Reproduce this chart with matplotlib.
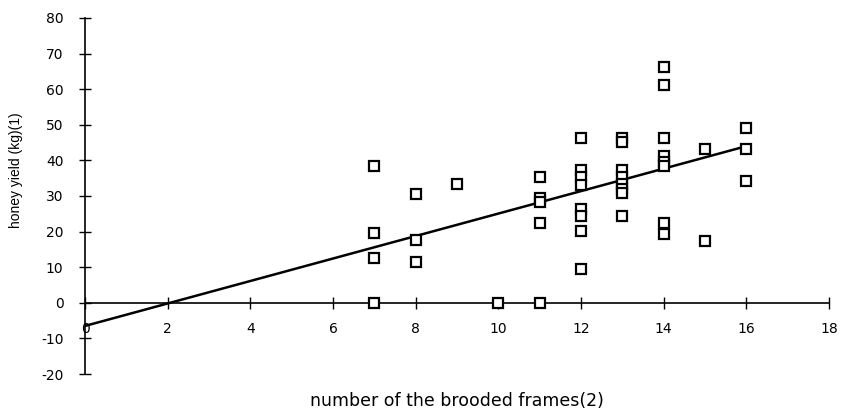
import numpy as np
import matplotlib.pyplot as plt


plt.rcParams['font.family']        = 'DejaVu Sans'
plt.rcParams['font.size']          = 10
plt.rcParams['axes.unicode_minus'] = False


# brooded frames (x) and honey yield in kg (y)
frames = [7, 7, 7, 7,
          8, 8, 8,
          9,
          10,
          11, 11, 11, 11, 11,
          12, 12, 12, 12, 12, 12, 12, 12,
          13, 13, 13, 13, 13, 13, 13, 13,
          14, 14, 14, 14, 14, 14, 14, 14,
          15, 15,
          16, 16, 16]
honey = [38.5, 19.5, 12.5, 0,
         30.5, 17.5, 11.5,
         33.5,
         0,
         35.3, 29.5, 28.3, 22.5, 0,
         46.3, 37.4, 35.3, 33.2, 26.4, 24.3, 20.3, 9.4,
         46.3, 45.2, 37.4, 35.3, 33.5, 32.0, 30.8, 24.3,
         66.3, 61.2, 46.3, 41.1, 39.5, 38.3, 22.5, 19.3,
         43.1, 17.3,
         49.1, 43.1, 34.3]

# trend line as drawn in the picture
trend_x = [0, 16]
trend_y = [-6.5, 44.0]

x_ticks = [0, 2, 4, 6, 8, 10, 12, 14, 16, 18]
y_ticks = [-20, -10, 0, 10, 20, 30, 40, 50, 60, 70, 80]


def main():
    fig = plt.figure(figsize=(8.41, 4.15), dpi=100)
    ax = fig.add_axes([85/841, 1 - 374/415, 744/841, 356/415])

    ax.plot(trend_x, trend_y, color='black', lw=1.8, zorder=2)
    ax.plot(frames, honey, 's', ms=7, mfc='white', mec='black', mew=1.6,
            zorder=3, clip_on=False)

    ax.set_xlim(0, 18)
    ax.set_ylim(-20, 80)
    for s in ['top', 'right']:
        ax.spines[s].set_visible(False)
    ax.spines['bottom'].set_position(('data', 0))
    ax.spines['bottom'].set_linewidth(1.2)
    ax.spines['left'].set_linewidth(1.2)

    ax.set_xticks(x_ticks)
    ax.set_yticks(y_ticks)
    ax.tick_params(axis='x', direction='inout', length=8, width=1, pad=10,
                   labelsize=10)
    ax.tick_params(axis='y', direction='inout', length=9, width=1, pad=11,
                   labelsize=10)

    fig.text(16/841, 1 - 170/415, 'honey yield (kg)(1)', rotation=90,
             ha='center', va='center', fontsize=10,
             family=['Liberation Sans Narrow', 'Liberation Sans'])
    fig.text(457/841, 1 - 401/415, 'number of the brooded frames(2)',
             ha='center', va='center', fontsize=12.5)

    fig.savefig('out.png', dpi=100)


main()
